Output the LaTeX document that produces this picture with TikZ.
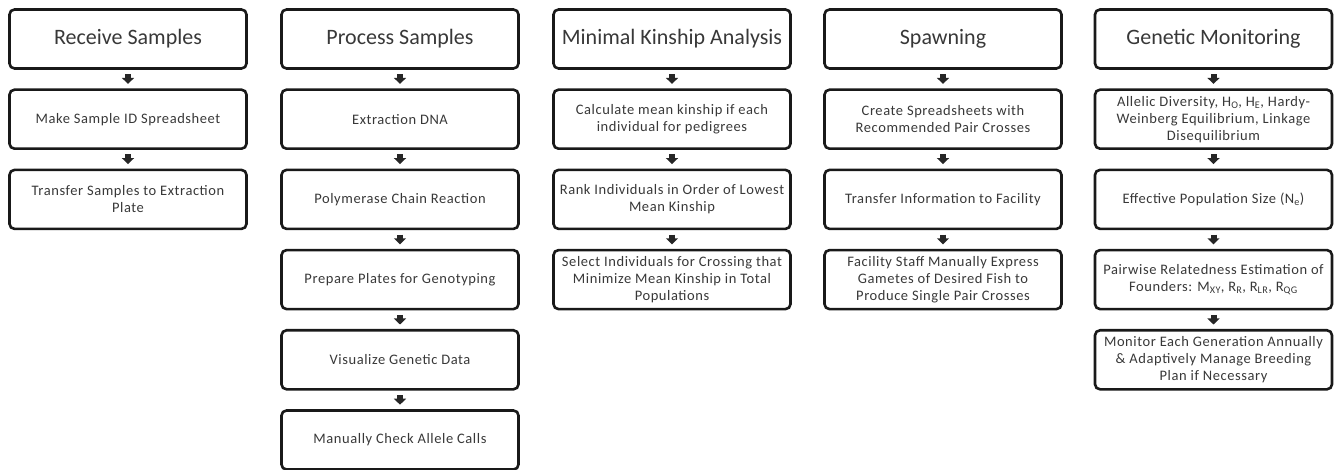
\documentclass[tikz,border=0pt]{standalone}
\usepackage{fontspec}
\setmainfont{Carlito}
\newfontfamily\bodyfont[LetterSpace=4]{Carlito}
\usetikzlibrary{arrows.meta}
\begin{document}
\begin{tikzpicture}[x=1pt,y=-1pt,
  box/.style={draw=black!90, line width=2.6pt, rounded corners=5pt,
    minimum width=237pt, minimum height=59pt, align=center, inner sep=1pt,
    text=black!78, font=\bodyfont\fontsize{14.5}{17}\selectfont},
  headbox/.style={box, font=\rmfamily\fontsize{22}{26}\selectfont},
  flow/.style={draw=black!85, line width=6pt, -{Triangle[length=6pt,width=12pt]},
    shorten <=4.5pt, shorten >=4.5pt}]
\useasboundingbox (0,0) rectangle (1336,470);
% column 1
\node[headbox] (a0) at (128,39) {Receive Samples};
\node[box] (a1) at (128,119.2) {Make Sample ID Spreadsheet};
\node[box] (a2) at (128,199.4) {Transfer Samples to Extraction\\Plate};
% column 2
\node[headbox] (b0) at (400,39) {Process Samples};
\node[box] (b1) at (400,119.2) {Extraction DNA};
\node[box] (b2) at (400,199.4) {Polymerase Chain Reaction};
\node[box] (b3) at (400,279.6) {Prepare Plates for Genotyping};
\node[box] (b4) at (400,359.8) {Visualize Genetic Data};
\node[box] (b5) at (400,440) {Manually Check Allele Calls};
% column 3
\node[headbox] (c0) at (672,39) {Minimal Kinship Analysis};
\node[box] (c1) at (672,119.2) {Calculate mean kinship if each\\individual for pedigrees};
\node[box] (c2) at (672,199.4) {Rank Individuals in Order of Lowest\\Mean Kinship};
\node[box] (c3) at (672,279.6) {Select Individuals for Crossing that\\Minimize Mean Kinship in Total\\Populations};
% column 4
\node[headbox] (d0) at (943,39) {Spawning};
\node[box] (d1) at (943,119.2) {Create Spreadsheets with\\Recommended Pair Crosses};
\node[box] (d2) at (943,199.4) {Transfer Information to Facility};
\node[box] (d3) at (943,279.6) {Facility Staff Manually Express\\Gametes of Desired Fish to\\Produce Single Pair Crosses};
% column 5
\node[headbox] (e0) at (1213.5,39) {Genetic Monitoring};
\node[box] (e1) at (1213.5,119.2) {Allelic Diversity, H\textsubscript{O}, H\textsubscript{E}, Hardy-\\Weinberg Equilibrium, Linkage\\Disequilibrium};
\node[box] (e2) at (1213.5,199.4) {Effective Population Size (N\textsubscript{e})};
\node[box] (e3) at (1213.5,279.6) {Pairwise Relatedness Estimation of\\Founders: M\textsubscript{XY}, R\textsubscript{R}, R\textsubscript{LR}, R\textsubscript{QG}};
\node[box] (e4) at (1213.5,359.8) {Monitor Each Generation Annually\\\& Adaptively Manage Breeding\\Plan if Necessary};
% arrows
\draw[flow] (a0) -- (a1);
\draw[flow] (a1) -- (a2);
\draw[flow] (b0) -- (b1);
\draw[flow] (b1) -- (b2);
\draw[flow] (b2) -- (b3);
\draw[flow] (b3) -- (b4);
\draw[flow] (b4) -- (b5);
\draw[flow] (c0) -- (c1);
\draw[flow] (c1) -- (c2);
\draw[flow] (c2) -- (c3);
\draw[flow] (d0) -- (d1);
\draw[flow] (d1) -- (d2);
\draw[flow] (d2) -- (d3);
\draw[flow] (e0) -- (e1);
\draw[flow] (e1) -- (e2);
\draw[flow] (e2) -- (e3);
\draw[flow] (e3) -- (e4);
\end{tikzpicture}
\end{document}
